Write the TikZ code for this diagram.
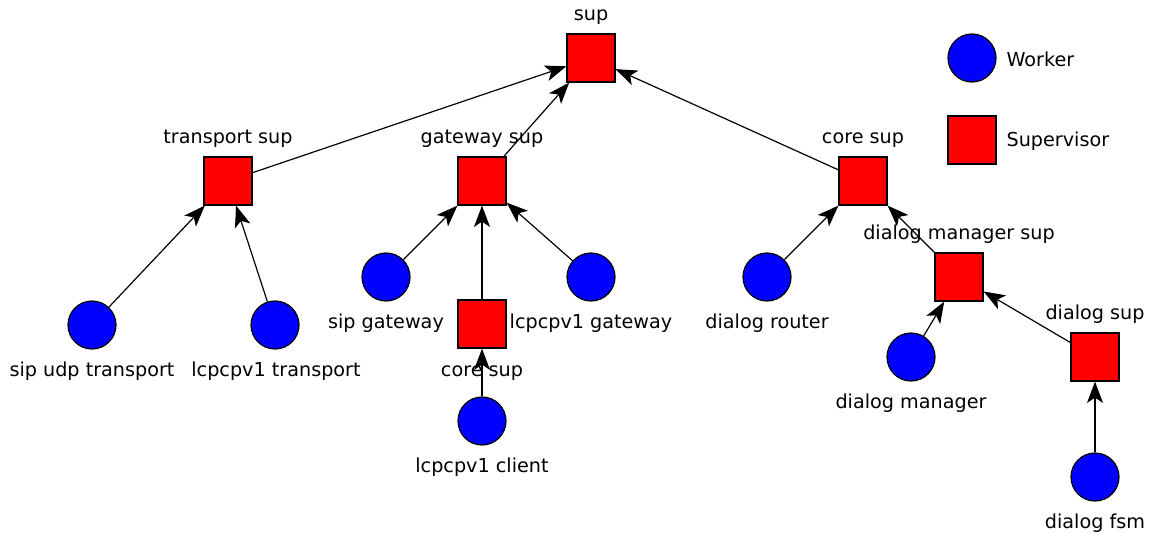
\documentclass[tikz,border=0pt]{standalone}
\usepackage{fontspec}
\setmainfont{DejaVu Sans}
\usetikzlibrary{arrows.meta}

\begin{document}
\begin{tikzpicture}[x=0.75pt,y=-0.75pt,line width=0.9pt,
    worker/.style={circle,draw,fill=blue,minimum size=36pt,inner sep=0pt},
    super/.style={rectangle,draw,fill=red,minimum size=36pt,inner sep=0pt},
    tag/.style={font=\fontsize{14.4}{17}\selectfont,inner sep=0pt,anchor=mid},
    link/.style={-{Stealth[length=16pt,width=12pt,inset=4pt]}}]
      \useasboundingbox (0,0) rectangle (1154,535);
      \node[super] (sup) at (591,58) {};
      \node[super] (tsup) at (228,181) {};
      \node[super] (gsup) at (482,181) {};
      \node[super] (csup) at (863,181) {};
      \node[worker] (sipudp) at (92,325) {};
      \node[worker] (lcptr) at (275,325) {};
      \node[worker] (sipgw) at (386,277) {};
      \node[super] (ccsup) at (482,324) {};
      \node[worker] (lcpgw) at (591,277) {};
      \node[worker] (lcpcl) at (482,421) {};
      \node[worker] (router) at (767,277) {};
      \node[super] (dmsup) at (959,277) {};
      \node[worker] (dman) at (911,357) {};
      \node[super] (dsup) at (1095,357) {};
      \node[worker] (fsm) at (1095,477) {};
      \node[worker] (lw) at (972,58) {};
      \node[super] (ls) at (972,140) {};
      \node[tag] (supL) at (591,17) {sup};
      \node[tag] (tsupL) at (228,140) {transport sup};
      \node[tag] (gsupL) at (482,140) {gateway sup};
      \node[tag] (csupL) at (863,140) {core sup};
      \node[tag] (sipudpL) at (92,373) {sip udp transport};
      \node[tag] (lcptrL) at (276,373) {lcpcpv1 transport};
      \node[tag] (sipgwL) at (386,325) {sip gateway};
      \node[tag] (ccsupL) at (482,373) {core sup};
      \node[tag] (lcpgwL) at (591,325) {lcpcpv1 gateway};
      \node[tag] (lcpclL) at (482,469) {lcpcpv1 client};
      \node[tag] (routerL) at (767,325) {dialog router};
      \node[tag] (dmsupL) at (959,236) {dialog manager sup};
      \node[tag] (dmanL) at (911,405) {dialog manager};
      \node[tag] (dsupL) at (1095,316) {dialog sup};
      \node[tag] (fsmL) at (1095,525) {dialog fsm};
      \node[tag,anchor=west] (lwL) at (1006,59) {Worker};
      \node[tag,anchor=west] (lsL) at (1006,141) {Supervisor};
      \draw[link] (tsup) -- (sup);
      \draw[link] (gsup) -- (sup);
      \draw[link] (csup) -- (sup);
      \draw[link] (sipudp) -- (tsup);
      \draw[link] (lcptr) -- (tsup);
      \draw[link] (sipgw) -- (gsup);
      \draw[link] (ccsup) -- (gsup);
      \draw[link] (lcpgw) -- (gsup);
      \draw[link] (lcpcl) -- (ccsup);
      \draw[link] (router) -- (csup);
      \draw[link] (dmsup) -- (csup);
      \draw[link] (dman) -- (dmsup);
      \draw[link] (dsup) -- (dmsup);
      \draw[link] (fsm) -- (dsup);
    \end{tikzpicture}
\end{document}
